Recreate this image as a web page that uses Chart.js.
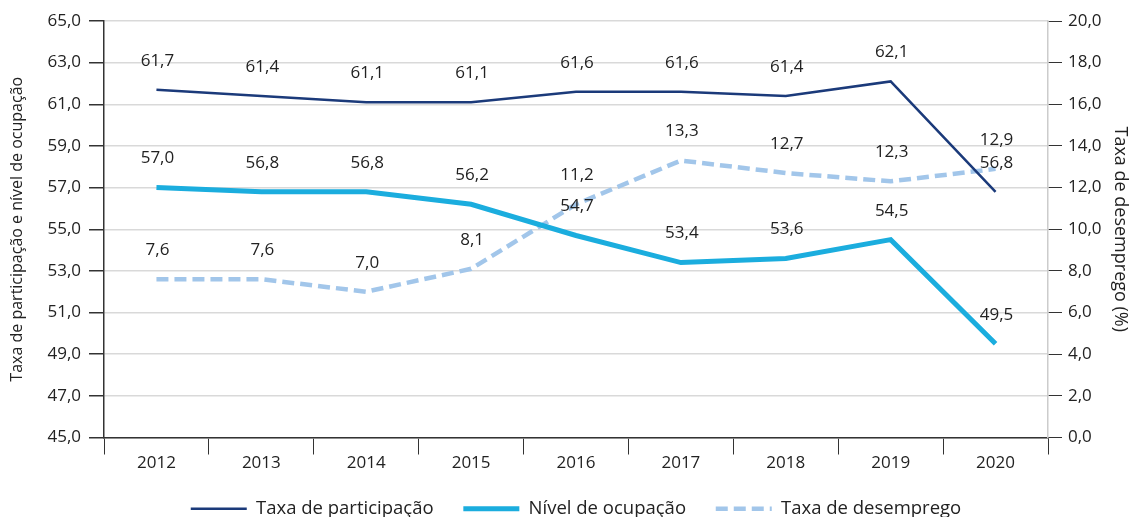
<!DOCTYPE html>
<html>
<head>
<meta charset="utf-8">
<script src="https://cdn.jsdelivr.net/npm/chart.js@4"></script>
<style>
  html, body { margin: 0; padding: 0; background: #fff; }
  #wrap { width: 1129px; height: 517px; }
</style>
</head>
<body>
<div id="wrap"><canvas id="mercadoChart" width="1129" height="517"></canvas></div>
<script>
// Data
const anos = ['2012', '2013', '2014', '2015', '2016', '2017', '2018', '2019', '2020'];
const taxaParticipacao = [61.7, 61.4, 61.1, 61.1, 61.6, 61.6, 61.4, 62.1, 56.8];
const nivelOcupacao = [57.0, 56.8, 56.8, 56.2, 54.7, 53.4, 53.6, 54.5, 49.5];
const taxaDesemprego = [7.6, 7.6, 7.0, 8.1, 11.2, 13.3, 12.7, 12.3, 12.9];

const FONT = 'Open Sans';
const TXT = '#222';

function fmt(v) {
  return Number(v).toFixed(1).replace('.', ',');
}

// draws the value over each point
const valueLabels = {
  id: 'valueLabels',
  afterDatasetsDraw(chart) {
    const ctx = chart.ctx;
    ctx.save();
    ctx.font = '17px "' + FONT + '"';
    ctx.fillStyle = TXT;
    ctx.textAlign = 'center';
    ctx.textBaseline = 'middle';
    chart.data.datasets.forEach((ds, i) => {
      const meta = chart.getDatasetMeta(i);
      meta.data.forEach((pt, j) => {
        ctx.fillText(fmt(ds.data[j]), pt.x + 1, pt.y - 29);
      });
    });
    ctx.restore();
  }
};

new Chart(document.getElementById('mercadoChart'), {
  type: 'line',
  data: {
    labels: anos,
    datasets: [
      {
        label: 'Taxa de participação',
        data: taxaParticipacao,
        yAxisID: 'y',
        borderColor: '#1b3a7a',
        backgroundColor: '#1b3a7a',
        borderWidth: 2.5,
        pointRadius: 0,
        tension: 0
      },
      {
        label: 'Nível de ocupação',
        data: nivelOcupacao,
        yAxisID: 'y',
        borderColor: '#1badde',
        backgroundColor: '#1badde',
        borderWidth: 5,
        pointRadius: 0,
        tension: 0
      },
      {
        label: 'Taxa de desemprego',
        data: taxaDesemprego,
        yAxisID: 'y2',
        borderColor: '#a2c6ea',
        backgroundColor: '#a2c6ea',
        borderWidth: 4.5,
        borderDash: [12, 6],
        pointRadius: 0,
        tension: 0
      }
    ]
  },
  options: {
    responsive: false,
    animation: false,
    layout: { padding: { top: 21, right: 0, left: 0, bottom: -11 } },
    plugins: {
      tooltip: { enabled: false },
      legend: {
        position: 'bottom',
        fullSize: false,
        labels: {
          usePointStyle: true,
          pointStyle: 'line',
          boxWidth: 56,
          pointStyleWidth: 56,
          padding: 2,
          color: TXT,
          font: { family: FONT, size: 18.5 },
          generateLabels(chart) {
            const items = Chart.defaults.plugins.legend.labels.generateLabels(chart);
            items.forEach((it, i) => {
              const ds = chart.data.datasets[i];
              it.lineDash = ds.borderDash || [];
              it.lineWidth = ds.borderWidth;
              it.strokeStyle = ds.borderColor;
              if (i < items.length - 1) it.text = it.text + '\u2003\u2002';
            });
            return items;
          }
        }
      }
    },
    scales: {
      x: {
        offset: true,
        afterFit: (s) => { s.height = 60; },
        grid: {
          offset: true,
          drawOnChartArea: false,
          tickLength: 17,
          tickColor: '#333'
        },
        border: { color: '#333', width: 1.5 },
        ticks: { color: TXT, font: { family: FONT, size: 17 }, padding: -2 }
      },
      y: {
        position: 'left',
        min: 45,
        max: 65,
        afterFit: (s) => { s.width = 104; },
        ticks: {
          stepSize: 2,
          color: TXT,
          padding: 8,
          font: { family: FONT, size: 17 },
          callback: (v) => fmt(v)
        },
        grid: { color: '#d9d9d9', tickColor: '#333', tickLength: 15, lineWidth: 1.5 },
        border: { color: '#333', width: 1.5 },
        title: {
          display: true,
          text: 'Taxa de participação e nível de ocupação',
          color: TXT,
          font: { family: FONT, size: 16 },
          padding: { top: 8, bottom: 0 }
        }
      },
      y2: {
        position: 'right',
        min: 0,
        max: 20,
        afterFit: (s) => { s.width = 81; },
        ticks: {
          stepSize: 2,
          color: TXT,
          padding: 6,
          font: { family: FONT, size: 17 },
          callback: (v) => fmt(v)
        },
        grid: { drawOnChartArea: false, tickColor: '#333', tickLength: 14 },
        border: { color: '#cccccc', width: 1.5 },
        title: {
          display: true,
          text: 'Taxa de desemprego (%)',
          color: TXT,
          font: { family: FONT, size: 18, lineHeight: 1 },
          padding: { top: 0, bottom: 0 }
        }
      }
    }
  },
  plugins: [valueLabels]
});
</script>
</body>
</html>
